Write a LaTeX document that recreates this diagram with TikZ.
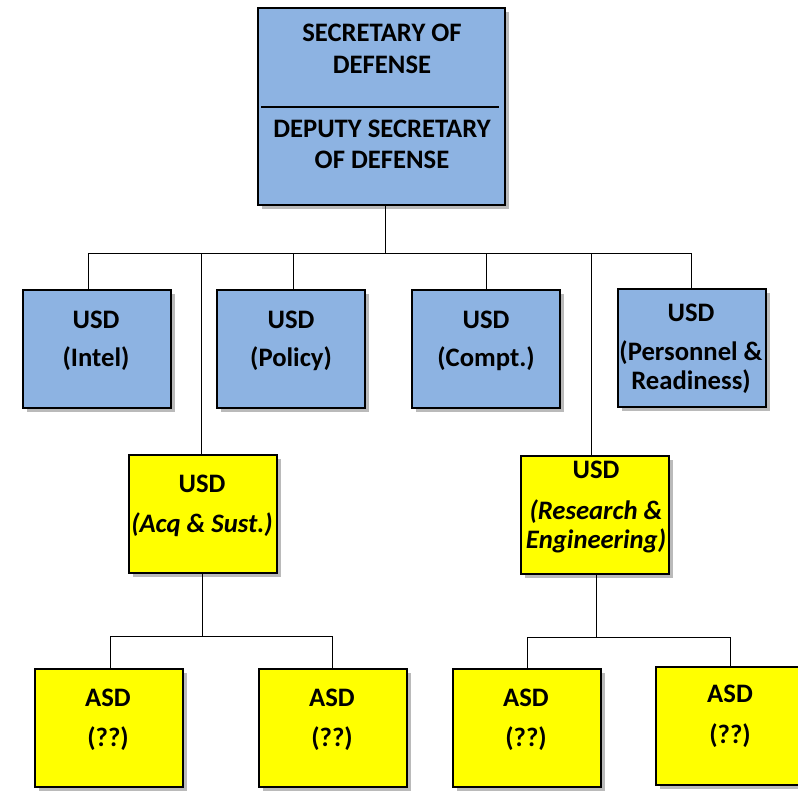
\documentclass[tikz,border=0pt]{standalone}
\usepackage{fontspec}
\setmainfont{Carlito}
\usetikzlibrary{shadows}
\definecolor{boxblue}{HTML}{8DB3E2}
\definecolor{boxyellow}{HTML}{FFFF00}
\tikzset{
  orgbox/.style={draw=black, line width=1.5pt, minimum width=111pt, minimum height=88.5pt, inner sep=0pt,
    drop shadow={shadow xshift=3pt, shadow yshift=-3pt, opacity=0.45, fill=black!60}},
  bluebox/.style={orgbox, fill=boxblue},
  yelbox/.style={orgbox, fill=boxyellow},
  txt/.style={anchor=base, inner sep=0pt, font=\fontsize{20}{23}\selectfont\bfseries},
  itxt/.style={txt, font=\fontsize{20}{23}\selectfont\bfseries\itshape},
  conn/.style={draw=black, line width=0.75pt}
}
\begin{document}
\begin{tikzpicture}[x=0.75pt,y=-0.75pt]
\useasboundingbox (0,0) rectangle (798,791);
% boxes
\node[bluebox, minimum width=185.25pt, minimum height=147.75pt] (secdef) at (381.5,106.5) {};
\node[bluebox] (intel) at (96.5,349) {};
\node[bluebox] (policy) at (290.5,349) {};
\node[bluebox] (compt) at (485.5,349) {};
\node[bluebox] (pr) at (691.5,348) {};
\node[yelbox] (acq) at (202.5,514) {};
\node[yelbox] (re) at (594.5,515) {};
\node[yelbox] (asd1) at (108.5,728) {};
\node[yelbox] (asd2) at (332.5,728) {};
\node[yelbox] (asd3) at (526.5,728) {};
\node[yelbox] (asd4) at (729.5,725.5) {};
% separator line in top box
\coordinate (sepL) at (261,107);
\coordinate (sepR) at (499,107);
\draw[line width=2.2pt] (sepL) -- (sepR);
% texts
\node[txt] (t1) at (382,42) {SECRETARY OF};
\node[txt] (t2) at (382,74) {DEFENSE};
\node[txt] (t3) at (382,138) {DEPUTY SECRETARY};
\node[txt] (t4) at (382,169) {OF DEFENSE};
\node[txt] (i1) at (96,328) {USD};
\node[txt] (i2) at (96,366) {(Intel)};
\node[txt] (p1) at (291,328) {USD};
\node[txt] (p2) at (291,366) {(Policy)};
\node[txt] (c1) at (486,328) {USD};
\node[txt] (c2) at (486,366) {(Compt.)};
\node[txt] (r1) at (691,321) {USD};
\node[txt] (r2) at (691,360) {(Personnel \&};
\node[txt] (r3) at (691,389) {Readiness)};
\node[txt] (a1) at (202,492) {USD};
\node[itxt] (a2) at (202,532) {(Acq \& Sust.)};
\node[txt] (e1) at (596,478) {USD};
\node[itxt] (e2) at (596,519) {(Research \&};
\node[itxt] (e3) at (596,548) {Engineering)};
\node[txt] (s1) at (108,706) {ASD};
\node[txt] (s2) at (108,746) {(??)};
\node[txt] (s3) at (332,706) {ASD};
\node[txt] (s4) at (332,746) {(??)};
\node[txt] (s5) at (526,706) {ASD};
\node[txt] (s6) at (526,746) {(??)};
\node[txt] (s7) at (730,702) {ASD};
\node[txt] (s8) at (730,743) {(??)};
% connectors
\coordinate (bus1) at (385,254);
\draw[conn] (secdef.south -| bus1) -- (bus1);
\draw[conn] (intel.north -| 88,0) -- (88,254) -- (691,254) -- (pr.north -| 691,0);
\draw[conn] (293,254) -- (policy.north -| 293,0);
\draw[conn] (486,254) -- (compt.north -| 486,0);
\draw[conn] (201,254) -- (acq.north -| 201,0);
\draw[conn] (591,254) -- (re.north -| 591,0);
\draw[conn] (acq.south -| 202,0) -- (202,636);
\draw[conn] (asd1.north -| 110,0) -- (110,636) -- (332,636) -- (asd2.north -| 332,0);
\draw[conn] (re.south -| 596,0) -- (596,637);
\draw[conn] (asd3.north -| 527,0) -- (527,637) -- (730,637) -- (asd4.north -| 730,0);
\end{tikzpicture}
\end{document}
